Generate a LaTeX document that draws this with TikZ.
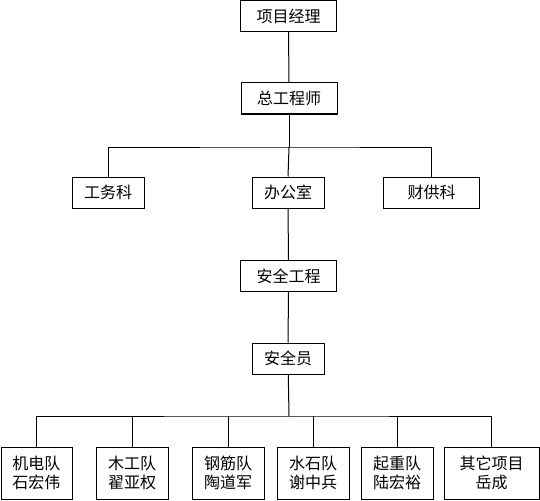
\documentclass[tikz,border=0pt]{standalone}
\usepackage{fontspec}
\setmainfont{Noto Sans CJK SC}
\usetikzlibrary{positioning}

\begin{document}
\begin{tikzpicture}[x=1pt, y=-1pt, line width=1pt,
  box/.style={draw, inner sep=0pt, minimum height=31pt, minimum width=72pt, align=center,
    font=\fontsize{16}{19}\selectfont},
  wide/.style={box, minimum width=96pt},
  team/.style={box, minimum height=52pt}]
  \useasboundingbox (0,0) rectangle (540,500);
  % management line
  \node[wide] (pm) at (288.5,16) {项目经理};
  \node[wide] (chief) at (289,98.5) {总工程师};
  \node[box] (works) at (108,192.5) {工务科};
  \node[box] (office) at (288,192.5) {办公室};
  \node[wide] (finance) at (431.5,192.5) {财供科};
  \node[wide] (safeeng) at (288.5,276) {安全工程};
  \node[box] (safeofc) at (288,358.5) {安全员};
  % work teams
  \node[team, minimum width=71pt] (mech) at (36.5,473) {机电队\\石宏伟};
  \node[team] (wood) at (132,473) {木工队\\翟亚权};
  \node[team] (steel) at (228,473) {钢筋队\\陶道军};
  \node[team] (stone) at (313,473) {水石队\\谢中兵};
  \node[team] (lift) at (397,473) {起重队\\陆宏裕};
  \node[team, minimum width=95pt] (other) at (491.5,473) {其它项目\\岳成};
  \coordinate (bus1) at (289,147);
  \coordinate (bus2) at (289,416);
  \draw (pm) -- (chief);
  \draw (chief) -- (bus1);
  \draw (works.north) |- (bus1) -| (finance.north);
  \draw (bus1) -- (office.north);
  \draw (office) -- (safeeng);
  \draw (safeeng) -- (safeofc);
  \draw (safeofc) -- (bus2);
  \draw (mech.north) |- (bus2) -| (other.north);
  \foreach \t in {wood,steel,stone,lift}
    \draw (\t.north) -- (\t.north |- bus2);
\end{tikzpicture}
\end{document}
